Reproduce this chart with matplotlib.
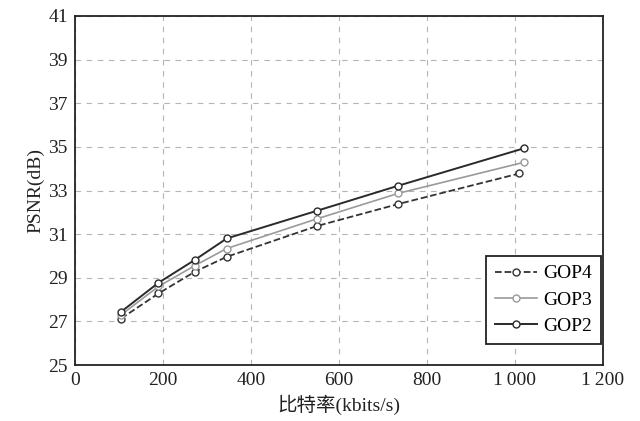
import matplotlib
matplotlib.use("Agg")
import matplotlib.pyplot as plt

# Bitrate (kbits/s) and PSNR (dB) per GOP length
bitrate = [105, 190, 272, 345, 550, 735, 1020]
bitrate_gop4 = [105, 190, 272, 345, 550, 735, 1010]
psnr_gop4 = [27.13, 28.28, 29.27, 29.96, 31.37, 32.38, 33.78]
psnr_gop3 = [27.30, 28.60, 29.55, 30.34, 31.70, 32.87, 34.29]
psnr_gop2 = [27.44, 28.77, 29.81, 30.80, 32.07, 33.22, 34.93]

x_ticks = [0, 200, 400, 600, 800, 1000, 1200]
x_ticklabels = ["0", "200", "400", "600", "800", "1\u2009000", "1\u2009200"]
y_ticks = [25, 27, 29, 31, 33, 35, 37, 39, 41]

plt.rcParams["font.family"] = ["Liberation Serif", "Noto Sans CJK SC"]

fig = plt.figure(figsize=(6.4, 4.21), dpi=100)
ax = fig.add_axes([0.117, 0.133, 0.825, 0.829])

# open circle markers on every series
mk = dict(marker="o", markersize=5, markerfacecolor="white", markeredgewidth=1.0)
ax.plot(bitrate_gop4, psnr_gop4, "--", color="#333333", lw=1.3, label="GOP4", **mk)
ax.plot(bitrate, psnr_gop3, "-", color="#9a9a9a", lw=1.2, label="GOP3", **mk)
ax.plot(bitrate, psnr_gop2, "-", color="#2a2a2a", lw=1.4, label="GOP2", **mk)

ax.set_xlim(0, 1200)
ax.set_ylim(25, 41)
ax.set_xticks(x_ticks)
ax.set_xticklabels(x_ticklabels)
ax.set_yticks(y_ticks)
ax.tick_params(labelsize=14, length=0, pad=5, colors="#222222")
ax.grid(True, linestyle=(0, (5, 5)), color="#b5b5b5", lw=0.8)
for s in ax.spines.values():
    s.set_linewidth(1.3)
    s.set_color("#222222")

ax.set_xlabel("比特率(kbits/s)", fontsize=14, color="#222222", labelpad=4)
ax.set_ylabel("PSNR(dB)", fontsize=14, color="#222222", labelpad=3)

leg = ax.legend(loc="lower right", bbox_to_anchor=(1.0, 0.055), fontsize=14,
                fancybox=False, framealpha=1, edgecolor="#222222",
                handlelength=2.2, borderpad=0.45, labelspacing=0.45, handletextpad=0.3,
                borderaxespad=0.1)
leg.get_frame().set_linewidth(1.3)

fig.savefig("out.png", dpi=100)
